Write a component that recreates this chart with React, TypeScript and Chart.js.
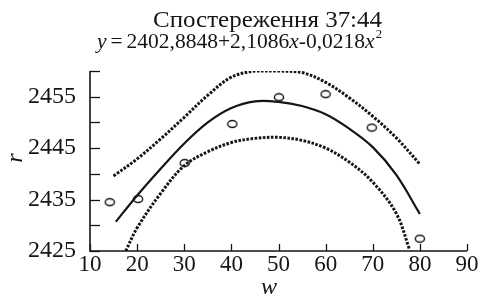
import React, { useEffect, useRef } from "react";
import { Chart, registerables } from "chart.js";

Chart.register(...registerables);

const titleWord = "Спостереження";
const titleNumber = " 37:44";
const xAxisTitle = "w";
const yAxisTitle = "r";

const xTicks = [10, 20, 30, 40, 50, 60, 70, 80, 90];
const yLabelled = [2425, 2435, 2445, 2455];

const pointX = [14.2, 20.2, 30.1, 40.2, 50.1, 60.0, 69.8, 80.0];
const pointY = [2434.5, 2435.1, 2442.1, 2449.7, 2454.9, 2455.5, 2449.0, 2427.4];

const fitX = [15.5, 20, 25, 30, 35, 40, 45, 50, 55, 60, 65, 70, 75, 80];
const fitY = [2430.7, 2435.8, 2441.0, 2445.9, 2450.0, 2452.8, 2454.1, 2454.0, 2453.2, 2451.6, 2448.8, 2445.2, 2439.8, 2432.2];

const upperX = [15, 20, 25, 30, 35, 40, 45, 50, 55, 60, 65, 70, 75, 80];
const upperY = [2439.6, 2442.9, 2446.8, 2451.0, 2455.3, 2458.8, 2460.0, 2460.0, 2459.7, 2457.8, 2454.8, 2451.2, 2447.0, 2441.9];

const lowerX = [17.6, 20, 25, 30, 35, 40, 45, 50, 55, 60, 65, 70, 75, 77.8];
const lowerY = [2425, 2429.5, 2436.2, 2441.6, 2444.3, 2446.1, 2446.9, 2447.1, 2446.5, 2445.0, 2442.3, 2438.4, 2432.3, 2425.3];

const INK = "#151515";
const SERIF = '"Liberation Serif", "DejaVu Serif", serif';

function zip(xs: number[], ys: number[]) {
  return xs.map((x, i) => ({ x, y: ys[i] }));
}

function makeEllipse(): HTMLCanvasElement {
  const c = document.createElement("canvas");
  c.width = 12;
  c.height = 10;
  const g = c.getContext("2d")!;
  g.fillStyle = "#ffffff";
  g.strokeStyle = INK;
  g.lineWidth = 1.4;
  g.beginPath();
  g.ellipse(6, 5, 4.6, 3.5, 0, 0, Math.PI * 2);
  g.fill();
  g.stroke();
  return c;
}

function drawParts(
  ctx: CanvasRenderingContext2D,
  parts: { t: string; f: string; dy?: number; gap?: number }[],
  left: number,
  targetWidth: number,
  baseline: number
) {
  let total = 0;
  for (const p of parts) {
    ctx.font = p.f;
    total += ctx.measureText(p.t).width + (p.gap || 0);
  }
  const sx = targetWidth / total;
  ctx.save();
  ctx.translate(left, baseline);
  ctx.scale(sx, 1);
  ctx.textAlign = "left";
  ctx.textBaseline = "alphabetic";
  let cx = 0;
  for (const p of parts) {
    ctx.font = p.f;
    cx += p.gap || 0;
    ctx.fillText(p.t, cx, p.dy || 0);
    cx += ctx.measureText(p.t).width;
  }
  ctx.restore();
}

const decorPlugin = {
  id: "decor",
  afterDraw(chart: any) {
    const ctx = chart.ctx as CanvasRenderingContext2D;
    const xs = chart.scales.x;
    const ys = chart.scales.y;
    const area = chart.chartArea;
    ctx.save();
    ctx.strokeStyle = INK;
    ctx.fillStyle = INK;
    ctx.lineWidth = 1.6;
    ctx.beginPath();
    ctx.moveTo(area.left, area.top);
    ctx.lineTo(area.left, area.bottom);
    ctx.lineTo(area.right, area.bottom);
    ctx.stroke();
    ctx.lineWidth = 1.3;
    for (const v of xTicks) {
      const px = Math.round(xs.getPixelForValue(v)) + 0.5;
      ctx.beginPath();
      ctx.moveTo(px, area.bottom);
      ctx.lineTo(px, area.bottom - 7);
      ctx.stroke();
    }
    for (let v = 2425; v <= 2460; v += 5) {
      const py = Math.round(ys.getPixelForValue(v)) + 0.5;
      ctx.beginPath();
      ctx.moveTo(area.left, py);
      ctx.lineTo(area.left + 10, py);
      ctx.stroke();
    }

    drawParts(
      ctx,
      [
        { t: titleWord, f: `24px ${SERIF}` },
        { t: titleNumber, f: `24px ${SERIF}` },
      ],
      153,
      229,
      27
    );

    drawParts(
      ctx,
      [
        { t: "y", f: `italic 22px ${SERIF}` },
        { t: "=", f: `22px ${SERIF}`, gap: 4 },
        { t: "2402,8848+2,1086", f: `22px ${SERIF}`, gap: 4 },
        { t: "x", f: `italic 22px ${SERIF}` },
        { t: "-0,0218", f: `22px ${SERIF}` },
        { t: "x", f: `italic 22px ${SERIF}` },
        { t: "2", f: `13px ${SERIF}`, dy: -10, gap: 1 },
      ],
      97,
      285,
      48
    );

    ctx.textAlign = "center";
    ctx.textBaseline = "alphabetic";
    ctx.font = `italic 24px ${SERIF}`;
    ctx.fillText(xAxisTitle, 269, 294);
    ctx.save();
    ctx.translate(22, 158);
    ctx.rotate(-Math.PI / 2);
    ctx.fillText(yAxisTitle, 0, 0);
    ctx.restore();
    ctx.restore();
  },
};

export default function App() {
  const ref = useRef<HTMLCanvasElement | null>(null);
  useEffect(() => {
    if (!ref.current) return;
    const ellipse = makeEllipse();
    const dotted = {
      borderColor: INK,
      borderWidth: 3,
      borderDash: [2.6, 1.5],
      borderCapStyle: "butt" as const,
      pointRadius: 0,
      tension: 0.35,
      fill: false,
    };
    const chart = new Chart(ref.current, {
      type: "line",
      data: {
        datasets: [
          { ...dotted, data: zip(upperX, upperY) },
          { ...dotted, data: zip(lowerX, lowerY) },
          {
            data: zip(fitX, fitY),
            borderColor: INK,
            borderWidth: 2.2,
            pointRadius: 0,
            tension: 0.35,
            fill: false,
          },
          {
            data: zip(pointX, pointY),
            showLine: false,
            pointStyle: ellipse as any,
            pointRadius: 5,
            borderColor: INK,
            backgroundColor: "#fff",
          },
        ],
      },
      options: {
        animation: false,
        responsive: false,
        maintainAspectRatio: false,
        layout: { padding: { top: 71, right: 14, left: 0, bottom: 0 } },
        plugins: {
          legend: { display: false },
          title: { display: false },
          tooltip: { enabled: false },
        },
        scales: {
          x: {
            type: "linear",
            min: 10,
            max: 90,
            grid: { display: false, drawTicks: false },
            border: { display: false },
            ticks: {
              stepSize: 10,
              color: INK,
              padding: 0,
              maxRotation: 0,
              autoSkip: false,
              font: { family: SERIF, size: 23 },
            },
            afterFit: (s: any) => {
              s.height = 48;
            },
          },
          y: {
            type: "linear",
            min: 2425,
            max: 2460,
            grid: { display: false, drawTicks: false },
            border: { display: false },
            ticks: {
              stepSize: 5,
              color: INK,
              padding: 14,
              autoSkip: false,
              font: { family: SERIF, size: 24 },
              callback: (v: any) => (yLabelled.includes(Number(v)) ? String(v) : ""),
            },
            afterFit: (s: any) => {
              s.width = 90;
            },
          },
        },
      },
      plugins: [decorPlugin],
    });
    return () => chart.destroy();
  }, []);
  return (
    <div style={{ position: "fixed", left: 0, top: 0, width: 481, height: 299, background: "#fff" }}>
      <canvas ref={ref} width={481} height={299} />
    </div>
  );
}
